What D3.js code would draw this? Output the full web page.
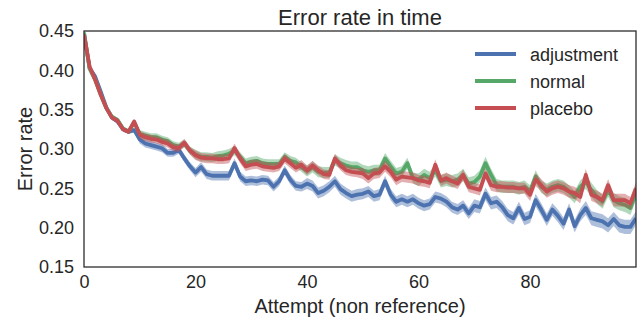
<!DOCTYPE html>
<html>
<head>
<meta charset="utf-8">
<script src="https://cdn.jsdelivr.net/npm/d3@7"></script>
<style>
  body { margin: 0; background: #fff; }
  svg { font-family: "Liberation Sans", Arial, sans-serif; }
</style>
</head>
<body>
<div id="chart"></div>
<script>
// mean error rate per attempt
const adjustment = [
  0.447, 0.403, 0.392, 0.373, 0.353, 0.340, 0.335, 0.325, 0.322, 0.324,
  0.312, 0.307, 0.305, 0.303, 0.301, 0.295, 0.295, 0.299, 0.288, 0.278,
  0.270, 0.277, 0.268, 0.266, 0.266, 0.266, 0.266, 0.282, 0.265, 0.259,
  0.260, 0.259, 0.261, 0.260, 0.252, 0.259, 0.273, 0.261, 0.253, 0.252,
  0.256, 0.253, 0.244, 0.247, 0.252, 0.259, 0.249, 0.244, 0.240, 0.242,
  0.243, 0.246, 0.240, 0.242, 0.259, 0.242, 0.233, 0.236, 0.233, 0.236,
  0.231, 0.228, 0.230, 0.239, 0.237, 0.233, 0.226, 0.223, 0.228, 0.218,
  0.228, 0.226, 0.243, 0.231, 0.233, 0.226, 0.216, 0.212, 0.225, 0.211,
  0.214, 0.235, 0.223, 0.210, 0.223, 0.215, 0.205, 0.223, 0.202, 0.216,
  0.225, 0.212, 0.210, 0.208, 0.203, 0.211, 0.203, 0.201, 0.201, 0.212
];
const normal = [
  0.448, 0.402, 0.388, 0.369, 0.352, 0.341, 0.337, 0.326, 0.322, 0.334,
  0.319, 0.317, 0.315, 0.315, 0.312, 0.310, 0.305, 0.303, 0.307, 0.298,
  0.293, 0.290, 0.290, 0.289, 0.291, 0.292, 0.294, 0.298, 0.290, 0.282,
  0.284, 0.285, 0.282, 0.281, 0.281, 0.281, 0.290, 0.285, 0.283, 0.277,
  0.272, 0.277, 0.271, 0.270, 0.270, 0.286, 0.282, 0.279, 0.277, 0.277,
  0.273, 0.271, 0.273, 0.273, 0.288, 0.278, 0.269, 0.271, 0.282, 0.263,
  0.261, 0.267, 0.263, 0.273, 0.259, 0.261, 0.259, 0.261, 0.267, 0.256,
  0.258, 0.265, 0.282, 0.267, 0.254, 0.252, 0.252, 0.252, 0.250, 0.252,
  0.246, 0.265, 0.252, 0.248, 0.252, 0.254, 0.252, 0.246, 0.239, 0.252,
  0.258, 0.248, 0.239, 0.233, 0.248, 0.235, 0.231, 0.229, 0.225, 0.244
];
const placebo = [
  0.445, 0.405, 0.388, 0.369, 0.352, 0.340, 0.336, 0.325, 0.322, 0.335,
  0.318, 0.315, 0.313, 0.312, 0.309, 0.307, 0.302, 0.301, 0.308, 0.298,
  0.292, 0.289, 0.288, 0.288, 0.287, 0.287, 0.288, 0.301, 0.288, 0.278,
  0.280, 0.281, 0.278, 0.277, 0.276, 0.278, 0.288, 0.282, 0.276, 0.280,
  0.273, 0.279, 0.273, 0.268, 0.267, 0.288, 0.279, 0.273, 0.271, 0.270,
  0.269, 0.263, 0.269, 0.270, 0.278, 0.271, 0.261, 0.265, 0.264, 0.263,
  0.260, 0.259, 0.257, 0.280, 0.260, 0.263, 0.259, 0.256, 0.267, 0.252,
  0.250, 0.248, 0.269, 0.254, 0.252, 0.252, 0.251, 0.251, 0.250, 0.250,
  0.242, 0.261, 0.254, 0.246, 0.250, 0.252, 0.250, 0.246, 0.244, 0.239,
  0.267, 0.242, 0.239, 0.235, 0.254, 0.235, 0.235, 0.235, 0.231, 0.250
];

// confidence band half-width, one value per block of 10 attempts
const ciAdjustment = [0.003, 0.005, 0.006, 0.006, 0.007, 0.007, 0.007, 0.008, 0.008, 0.009];
const ciNormal = [0.003, 0.005, 0.006, 0.006, 0.007, 0.007, 0.008, 0.008, 0.008, 0.009];
const ciPlacebo = [0.003, 0.005, 0.006, 0.006, 0.006, 0.007, 0.007, 0.007, 0.008, 0.008];

const seriesNames = ["adjustment", "normal", "placebo"];
const seriesColors = ["#4C72B0", "#55A868", "#C44E52"];
const xTicks = [0, 20, 40, 60, 80];
const yTicks = [0.15, 0.20, 0.25, 0.30, 0.35, 0.40, 0.45];

const series = [
  { name: seriesNames[0], values: adjustment, ci: ciAdjustment, color: seriesColors[0] },
  { name: seriesNames[1], values: normal, ci: ciNormal, color: seriesColors[1] },
  { name: seriesNames[2], values: placebo, ci: ciPlacebo, color: seriesColors[2] },
];

const width = 644;
const height = 322;
const margin = { top: 31, right: 8, bottom: 55, left: 84 };
const textColor = "#262626";

const svg = d3
  .select("#chart")
  .append("svg")
  .attr("width", width)
  .attr("height", height);

const xScale = d3
  .scaleLinear()
  .domain([0, 99])
  .range([margin.left, width - margin.right]);

const yScale = d3
  .scaleLinear()
  .domain([0.15, 0.45])
  .range([height - margin.bottom, margin.top]);

svg.append("defs")
  .append("clipPath")
  .attr("id", "plot-clip")
  .append("rect")
  .attr("x", margin.left)
  .attr("y", margin.top)
  .attr("width", width - margin.left - margin.right)
  .attr("height", height - margin.top - margin.bottom);

const plot = svg.append("g").attr("clip-path", "url(#plot-clip)");

const area = d3
  .area()
  .x((d, i) => xScale(i))
  .y0((d) => yScale(d.v - d.ci))
  .y1((d) => yScale(d.v + d.ci));

const line = d3
  .line()
  .x((d, i) => xScale(i))
  .y((d) => yScale(d));

series.forEach((s) => {
  const pts = s.values.map((v, i) => ({ v, ci: s.ci[Math.floor(i / 10)] }));
  plot.append("path")
    .attr("d", area(pts))
    .attr("fill", s.color)
    .attr("fill-opacity", 0.45);
  plot.append("path")
    .attr("d", line(s.values))
    .attr("fill", "none")
    .attr("stroke", s.color)
    .attr("stroke-width", 3.8)
    .attr("stroke-linejoin", "round");
});

// frame
svg.append("rect")
  .attr("x", margin.left)
  .attr("y", margin.top)
  .attr("width", width - margin.left - margin.right)
  .attr("height", height - margin.top - margin.bottom)
  .attr("fill", "none")
  .attr("stroke", textColor)
  .attr("stroke-width", 1.25);

// axes without tick marks (seaborn white style)
const xAxis = svg.append("g")
  .attr("transform", `translate(0, ${height - margin.bottom})`)
  .call(d3.axisBottom(xScale).tickValues(xTicks).tickSize(0).tickPadding(8));

const yAxis = svg.append("g")
  .attr("transform", `translate(${margin.left}, 0)`)
  .call(d3.axisLeft(yScale).tickValues(yTicks).tickSize(0).tickPadding(10)
    .tickFormat(d3.format(".2f")));

[xAxis, yAxis].forEach((g) => {
  g.select(".domain").remove();
  g.selectAll("text")
    .attr("fill", textColor)
    .style("font-size", "18px")
    .style("font-family", "'Liberation Sans', Arial, sans-serif");
});

// titles
svg.append("text")
  .attr("x", (margin.left + width - margin.right) / 2)
  .attr("y", 25)
  .attr("text-anchor", "middle")
  .attr("fill", textColor)
  .style("font-size", "22px")
  .text("Error rate in time");

svg.append("text")
  .attr("x", (margin.left + width - margin.right) / 2)
  .attr("y", 313)
  .attr("text-anchor", "middle")
  .attr("fill", textColor)
  .style("font-size", "20px")
  .text("Attempt (non reference)");

svg.append("text")
  .attr("transform", `translate(32, ${(margin.top + height - margin.bottom) / 2}) rotate(-90)`)
  .attr("text-anchor", "middle")
  .attr("fill", textColor)
  .style("font-size", "20px")
  .text("Error rate");

// legend
const legend = svg.append("g").attr("transform", "translate(475, 54)");
series.forEach((s, i) => {
  const row = legend.append("g").attr("transform", `translate(0, ${i * 27})`);
  row.append("line")
    .attr("x1", 0).attr("x2", 41)
    .attr("y1", 0).attr("y2", 0)
    .attr("stroke", s.color)
    .attr("stroke-width", 3.8);
  row.append("text")
    .attr("x", 55)
    .attr("y", 7)
    .attr("fill", textColor)
    .style("font-size", "18px")
    .text(s.name);
});
</script>
</body>
</html>
